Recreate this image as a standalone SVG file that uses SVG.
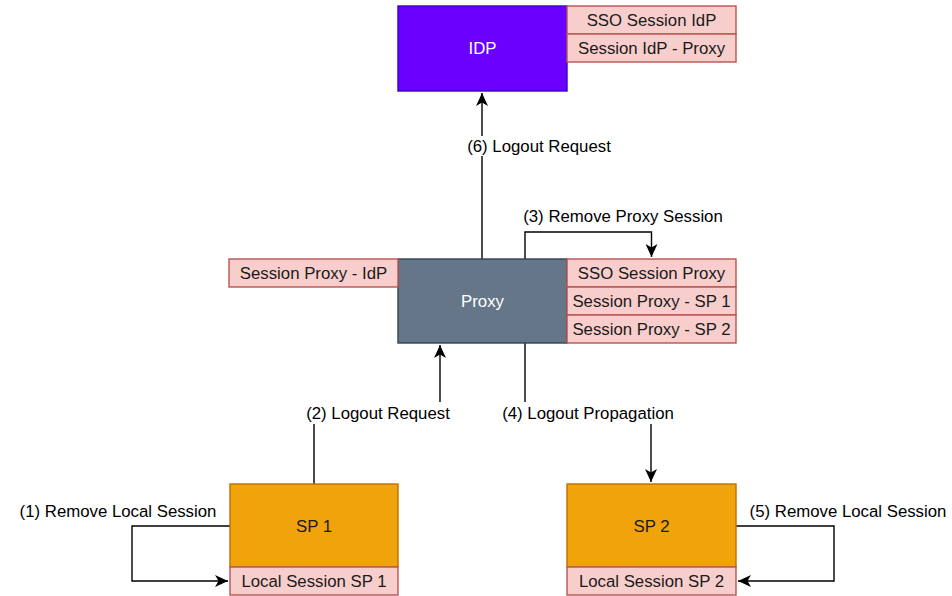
<svg xmlns="http://www.w3.org/2000/svg" width="952" height="596" viewBox="0 0 952 596">
<style>
text{font-family:"Liberation Sans",Arial,sans-serif;font-size:16.8px;text-anchor:middle;dominant-baseline:central}
.pink{fill:#f8cecc;stroke:#b85450;stroke-width:1.4}
.idp{fill:#6a00ff;stroke:#3700cc;stroke-width:1.4}
.proxy{fill:#647687;stroke:#314354;stroke-width:1.4}
.sp{fill:#f0a30a;stroke:#bd7000;stroke-width:1.4}
.w{fill:#ffffff}
.k{fill:#1a1a1a}
.line{fill:none;stroke:#000;stroke-width:1.4}
.lbg{fill:#ffffff}
</style>
<defs>
<marker id="arr" markerUnits="userSpaceOnUse" markerWidth="14" markerHeight="12" viewBox="0 0 14 12" refX="13" refY="6" orient="auto">
<path d="M0,0 L13,6 L0,12 L3.5,6 Z" fill="#000"/>
</marker>
</defs>
<g id="connectors">
<path class="line" d="M482,259 V93" marker-end="url(#arr)"/>
<rect class="lbg" x="464" y="136" width="150" height="20"/>
<text x="539" y="146">(6) Logout Request</text>
<path class="line" d="M525,259 V232 H651.5 V257" marker-end="url(#arr)"/>
<text x="623" y="216">(3) Remove Proxy Session</text>
<path class="line" d="M314,484 V413 H440 V345" marker-end="url(#arr)"/>
<rect class="lbg" x="302" y="402" width="152" height="22"/>
<text x="378" y="413">(2) Logout Request</text>
<path class="line" d="M525,343 V413 H651 V482" marker-end="url(#arr)"/>
<rect class="lbg" x="499" y="402" width="180" height="22"/>
<text x="588" y="413">(4) Logout Propagation</text>
<path class="line" d="M230,526 H132 V581 H228" marker-end="url(#arr)"/>
<text x="118" y="511">(1) Remove Local Session</text>
<path class="line" d="M736,526 H834 V581 H738" marker-end="url(#arr)"/>
<text x="848" y="511">(5) Remove Local Session</text>
</g>
<g id="idp">
<rect class="idp" x="398" y="6" width="169" height="85"/>
<text class="w" x="482.5" y="48.5">IDP</text>
</g>
<g id="sso-session-idp">
<rect class="pink" x="567" y="6" width="169" height="28"/>
<text class="k" x="651.5" y="20">SSO Session IdP</text>
</g>
<g id="session-idp-proxy">
<rect class="pink" x="567" y="34" width="169" height="28"/>
<text class="k" x="651.5" y="48">Session IdP - Proxy</text>
</g>
<g id="proxy">
<rect class="proxy" x="398" y="259" width="169" height="84"/>
<text class="w" x="482.5" y="301">Proxy</text>
</g>
<g id="session-proxy-idp">
<rect class="pink" x="229" y="259" width="169" height="28"/>
<text class="k" x="313.5" y="273">Session Proxy - IdP</text>
</g>
<g id="sso-session-proxy">
<rect class="pink" x="567" y="259" width="169" height="28"/>
<text class="k" x="651.5" y="273">SSO Session Proxy</text>
</g>
<g id="session-proxy-sp1">
<rect class="pink" x="567" y="287" width="169" height="28"/>
<text class="k" x="651.5" y="301">Session Proxy - SP 1</text>
</g>
<g id="session-proxy-sp2">
<rect class="pink" x="567" y="315" width="169" height="28"/>
<text class="k" x="651.5" y="329">Session Proxy - SP 2</text>
</g>
<g id="sp1">
<rect class="sp" x="230" y="484" width="168" height="83"/>
<text class="k" x="314" y="526">SP 1</text>
</g>
<g id="local-session-sp1">
<rect class="pink" x="230" y="567" width="168" height="28"/>
<text class="k" x="314" y="581">Local Session SP 1</text>
</g>
<g id="sp2">
<rect class="sp" x="567" y="484" width="169" height="83"/>
<text class="k" x="651.5" y="526">SP 2</text>
</g>
<g id="local-session-sp2">
<rect class="pink" x="567" y="567" width="169" height="28"/>
<text class="k" x="651.5" y="581">Local Session SP 2</text>
</g>
</svg>
